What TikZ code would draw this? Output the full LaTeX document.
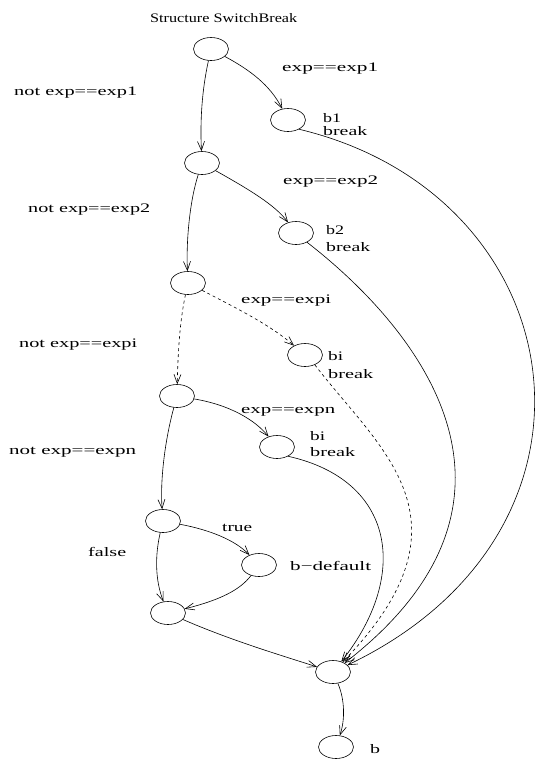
\documentclass[tikz,border=0pt]{standalone}
\usepackage{fontspec}
\setmainfont{Liberation Serif}
\usetikzlibrary{shapes.geometric,arrows.meta}
% stretch a label to a given width, keeping its height
\newcommand\wlab[2]{\resizebox{#1pt}{\height}{#2}}
\begin{document}
\begin{tikzpicture}[x=1pt,y=-1pt,
  state/.style={ellipse,draw,line width=0.6pt,minimum width=35pt,minimum height=23pt,inner sep=0pt},
  flow/.style={line width=0.6pt,-{Straight Barb[length=9pt,width=7pt,line width=0.6pt]}},
  lab/.style={anchor=base west,inner sep=0pt,font=\fontsize{13}{15}\selectfont}]
\path[use as bounding box] (0,0) rectangle (537,763);

% states
\node[state] (n1) at (211,49) {};
\node[state] (b1) at (288,120) {};
\node[state] (n2) at (202,163) {};
\node[state] (b2) at (296,233) {};
\node[state] (n3) at (188,283) {};
\node[state] (bi) at (305,355) {};
\node[state] (n4) at (177,396) {};
\node[state] (bn) at (277,447) {};
\node[state] (n5) at (163,521) {};
\node[state] (bd) at (259,565) {};
\node[state] (n6) at (168,613) {};
\node[state] (j)  at (333,672) {};
\node[state] (b)  at (336,747) {};

% labels
\node[lab] (title) at (150,22) {\wlab{147}{Structure SwitchBreak}};
\node[lab] (c1) at (282,71) {\wlab{96}{exp==exp1}};
\node[lab] (nc1) at (14,95) {\wlab{123}{not exp==exp1}};
\node[lab] (lb1) at (323,122) {\wlab{18}{b1}};
\node[lab] (lk1) at (323,135) {\wlab{44}{break}};
\node[lab] (c2) at (283,184) {\wlab{95}{exp==exp2}};
\node[lab] (nc2) at (28,212) {\wlab{122}{not exp==exp2}};
\node[lab] (lb2) at (326,234) {\wlab{18}{b2}};
\node[lab] (lk2) at (326,251) {\wlab{44}{break}};
\node[lab] (ci) at (241,303) {\wlab{90}{exp==expi}};
\node[lab] (nci) at (19,347) {\wlab{118}{not exp==expi}};
\node[lab] (lbi) at (328,360) {\wlab{15}{bi}};
\node[lab] (lki) at (328,378) {\wlab{45}{break}};
\node[lab] (cn) at (241,413) {\wlab{94}{exp==expn}};
\node[lab] (ncn) at (9,454) {\wlab{127}{not exp==expn}};
\node[lab] (lbn) at (310,440) {\wlab{15}{bi}};
\node[lab] (lkn) at (310,456) {\wlab{45}{break}};
\node[lab] (lt) at (222,531) {\wlab{30}{true}};
\node[lab] (lf) at (88,556) {\wlab{38}{false}};
\node[lab] (ld) at (290,570) {\wlab{81}{b−default}};
\node[lab] (lb) at (370,753) {\wlab{10}{b}};

% tests along the chain
\draw[flow] (n1) .. controls (202,90) and (200,120) .. (n2);
\draw[flow] (n1) .. controls (250,70) and (270,85) .. (b1);
\draw[flow] (n2) .. controls (190,200) and (186,240) .. (n3);
\draw[flow] (n2) .. controls (250,190) and (275,205) .. (b2);
\draw[flow,dashed] (n3) .. controls (180,320) and (178,350) .. (n4);
\draw[flow,dashed] (n3) .. controls (240,310) and (270,325) .. (bi);
\draw[flow] (n4) .. controls (165,440) and (160,480) .. (n5);
\draw[flow] (n4) .. controls (230,405) and (255,420) .. (bn);
\draw[flow] (n5) .. controls (155,555) and (155,580) .. (n6);
\draw[flow] (n5) .. controls (210,530) and (235,540) .. (bd);
\draw[flow] (bd) .. controls (240,590) and (220,600) .. (n6);
\draw[flow] (n6) .. controls (230,640) and (280,655) .. (j);
\draw[flow] (j) .. controls (345,700) and (345,720) .. (b);

% break exits into the join state
\draw[flow] (b1.-40) .. controls (575,195) and (630,530) .. (j);
\draw[flow] (b2.-40) .. controls (420,330) and (555,500) .. (j);
\draw[flow,dashed] (bi.-45) .. controls (380,450) and (480,520) .. (j);
\draw[flow] (bn.-40) .. controls (395,480) and (410,575) .. (j);
\end{tikzpicture}
\end{document}
